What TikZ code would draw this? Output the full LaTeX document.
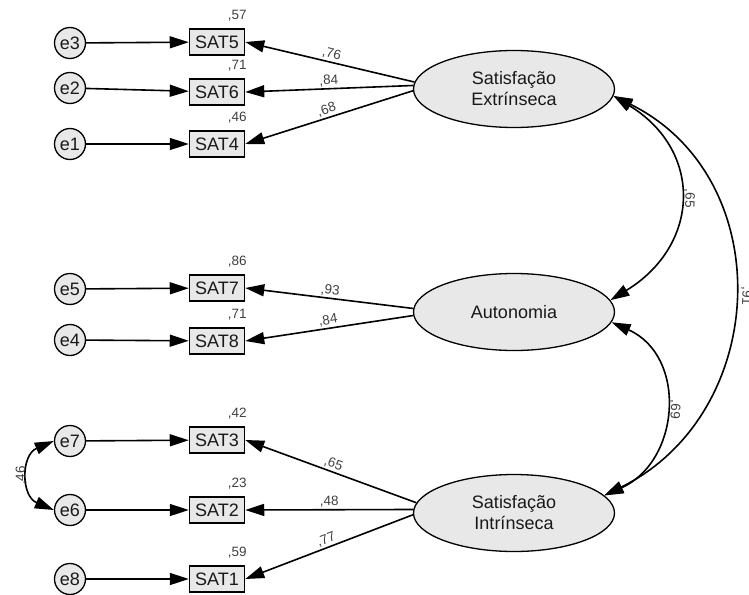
\documentclass[tikz,border=0pt]{standalone}
\usepackage{fontspec}
\setmainfont{Liberation Sans}
\usepackage{tikz}
\usetikzlibrary{calc}
\usetikzlibrary{shapes}
\usetikzlibrary{arrows.meta}

\begin{document}
\begin{tikzpicture}[x=1pt, y=-1pt,
  every node/.style={font=\fontsize{18}{21}\selectfont, text=black!90},
  err/.style={circle, draw, line width=1.3pt, fill=black!9, minimum size=31pt, inner sep=0pt},
  obs/.style={rectangle, draw, line width=1.5pt, fill=black!9, minimum width=55pt, minimum height=26pt, inner sep=0pt},
  lat/.style={ellipse, draw, line width=1.3pt, fill=black!9, minimum width=201pt, minimum height=77pt, inner sep=0pt, align=center},
  val/.style={font=\fontsize{13.5}{16}\selectfont, text=black!75, inner sep=1.5pt},
  load/.style={line width=1.6pt, -{Triangle[length=19pt,width=12pt]}},
  cov/.style={line width=1.6pt, {Triangle[length=19pt,width=12pt]}-{Triangle[length=19pt,width=12pt]}}]
  \useasboundingbox (0,0) rectangle (749,594);

  % latent factors
  \node[lat] (SE) at (514,89) {Satisfação\\Extrínseca};
  \node[lat] (AU) at (514,312) {Autonomia};
  \node[lat] (SI) at (514,513) {Satisfação\\Intrínseca};

  % observed items
  \node[obs] (SAT5) at (217,42) {SAT5};
  \node[obs] (SAT6) at (217,92) {SAT6};
  \node[obs] (SAT4) at (217,144) {SAT4};
  \node[obs] (SAT7) at (217,288) {SAT7};
  \node[obs] (SAT8) at (217,341) {SAT8};
  \node[obs] (SAT3) at (217,440) {SAT3};
  \node[obs] (SAT2) at (217,510) {SAT2};
  \node[obs] (SAT1) at (217,579) {SAT1};

  % errors
  \node[err] (e3) at (70,43) {e3};
  \node[err] (e2) at (70,88) {e2};
  \node[err] (e1) at (70,144) {e1};
  \node[err] (e5) at (70,289) {e5};
  \node[err] (e4) at (70,340) {e4};
  \node[err] (e7) at (70,441) {e7};
  \node[err] (e6) at (70,510) {e6};
  \node[err] (e8) at (70,579) {e8};

  % squared multiple correlations
  \node[val, anchor=base east] (r5) at ([xshift=3pt, yshift=8.5pt]SAT5.north east) {,57};
  \node[val, anchor=base east] (r6) at ([xshift=3pt, yshift=8.5pt]SAT6.north east) {,71};
  \node[val, anchor=base east] (r4) at ([xshift=3pt, yshift=8.5pt]SAT4.north east) {,46};
  \node[val, anchor=base east] (r7) at ([xshift=3pt, yshift=8.5pt]SAT7.north east) {,86};
  \node[val, anchor=base east] (r8) at ([xshift=3pt, yshift=8.5pt]SAT8.north east) {,71};
  \node[val, anchor=base east] (r3) at ([xshift=3pt, yshift=8.5pt]SAT3.north east) {,42};
  \node[val, anchor=base east] (r2) at ([xshift=3pt, yshift=8.5pt]SAT2.north east) {,23};
  \node[val, anchor=base east] (r1) at ([xshift=3pt, yshift=8.5pt]SAT1.north east) {,59};

  % error paths
  \draw[load] (e3) -- (SAT5);
  \draw[load] (e2) -- (SAT6);
  \draw[load] (e1) -- (SAT4);
  \draw[load] (e5) -- (SAT7);
  \draw[load] (e4) -- (SAT8);
  \draw[load] (e7) -- (SAT3);
  \draw[load] (e6) -- (SAT2);
  \draw[load] (e8) -- (SAT1);

  % loadings
  \draw[load] (SE.176) -- node[val, sloped, above] {,76} (SAT5.east);
  \draw[load] (SE.178) -- node[val, sloped, above] {,84} (SAT6.east);
  \draw[load] (SE.181) -- node[val, sloped, above] {,68} (SAT4.east);
  \draw[load] (AU.178) -- node[val, sloped, above] {,93} (SAT7.east);
  \draw[load] (AU.182) -- node[val, sloped, above] {,84} (SAT8.east);
  \draw[load] (SI.174) -- node[val, sloped, above] {,65} (SAT3.east);
  \draw[load] (SI.178) -- node[val, sloped, above] {,48} (SAT2.east);
  \draw[load] (SI.181) -- node[val, sloped, above] {,77} (SAT1.east);

  % correlations
  \draw[cov] (SE.-4) .. controls +(90,55) and +(90,-55) ..
    node[val, sloped, allow upside down, above=2pt] {,65} (AU.7);
  \draw[cov] (AU.-6) .. controls +(76,34) and +(76,-34) ..
    node[val, sloped, allow upside down, above=2pt] {,69} (SI.11);
  \draw[cov] (SE.-4) .. controls +(166,82) and +(166,-82) ..
    node[val, sloped, allow upside down, above=5pt] {,91} (SI.11);
  \draw[cov] (e6.180) .. controls +(-33,-14) and +(-33,14) ..
    node[val, sloped, allow upside down, above] {,46} (e7.180);
\end{tikzpicture}
\end{document}
